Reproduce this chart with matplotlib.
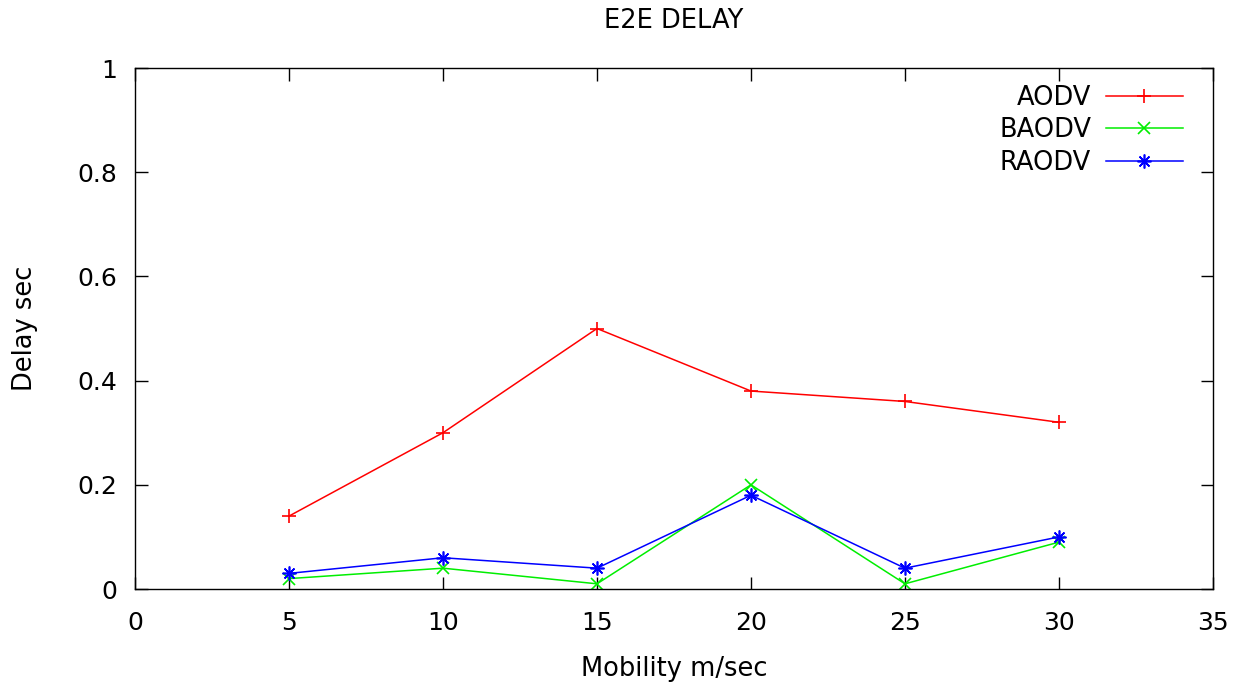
import matplotlib.pyplot as plt

plt.rcParams['font.family'] = ['DejaVu Sans']

mobility = [5, 10, 15, 20, 25, 30]
aodv = [0.14, 0.30, 0.50, 0.38, 0.36, 0.32]
baodv = [0.02, 0.04, 0.01, 0.20, 0.01, 0.09]
raodv = [0.03, 0.06, 0.04, 0.18, 0.04, 0.10]

xticks = [0, 5, 10, 15, 20, 25, 30, 35]
yticks = [0, 0.2, 0.4, 0.6, 0.8, 1]
ytick_labels = ["0", "0.2", "0.4", "0.6", "0.8", "1"]

fig = plt.figure(figsize=(12.41, 6.83), dpi=100)
ax = fig.add_axes([0.1088, 0.1376, 0.8686, 0.7628])

ax.plot(mobility, aodv, color="#ff0000", lw=1.1, marker="+", ms=10, mew=1.2, label="AODV")
ax.plot(mobility, baodv, color="#00ee00", lw=1.1, marker="x", ms=8, mew=1.2, label="BAODV")
ax.plot(mobility, raodv, color="#0000ff", lw=1.1, marker=(8, 2, 0), ms=10, mew=1.2, label="RAODV")

ax.set_xlim(0, 35)
ax.set_ylim(0, 1)
ax.set_xticks(xticks)
ax.set_yticks(yticks)
ax.set_yticklabels(ytick_labels)
ax.tick_params(direction="in", length=9, width=1, top=True, right=True,
               labelsize=18, colors="black")
ax.tick_params(axis="x", pad=16)
ax.tick_params(axis="y", pad=13)
for s in ax.spines.values():
    s.set_linewidth(1.0)

ax.set_title("E2E DELAY", fontsize=18.5, pad=29)
ax.set_xlabel("Mobility m/sec", fontsize=18.5, labelpad=15)
ax.set_ylabel("Delay sec", fontsize=18.5, labelpad=28)

ax.legend(loc="upper right", frameon=False, markerfirst=False, fontsize=18.5,
          handlelength=3.0, labelspacing=0.24, borderaxespad=0, borderpad=0,
          handletextpad=0.58, bbox_to_anchor=(0.9722, 0.967))

fig.savefig("out.png", dpi=100)
